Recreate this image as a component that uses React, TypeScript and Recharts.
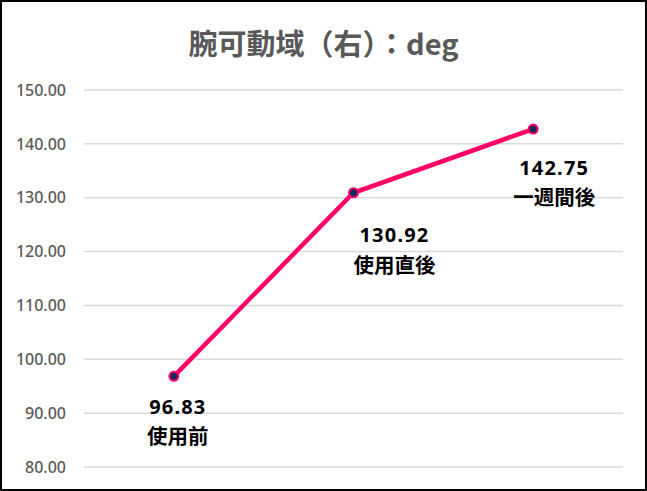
import { LineChart, Line, XAxis, YAxis, CartesianGrid, LabelList } from "recharts"

const categories = ["使用前", "使用直後", "一週間後"]
const values = [96.83, 130.92, 142.75]
const yTicks = [80, 90, 100, 110, 120, 130, 140, 150]

const data = categories.map((name, i) => ({ name, value: values[i] }))

// label placement relative to each point (Excel labels were dragged by hand)
const labelShift = [
  { dx: 4, dy: 30 },
  { dx: 41, dy: 42 },
  { dx: 21, dy: 38 },
]

const FONT = "'Noto Sans CJK JP', 'Noto Sans', sans-serif"

function PointLabel(props: any) {
  const { x, y, index } = props
  const s = labelShift[index] || { dx: 0, dy: 36 }
  const cx = x + s.dx
  const cy = y + s.dy
  return (
    <g fontWeight={700} fill="#000">
      <text x={cx} y={cy} textAnchor="middle" dominantBaseline="central" fontFamily="'Noto Sans', sans-serif" fontSize={20} letterSpacing={1.2}>
        {values[index].toFixed(2)}
      </text>
      <text x={cx} y={cy + 29} textAnchor="middle" dominantBaseline="central" fontFamily={FONT} fontSize={20.5}>
        {categories[index]}
      </text>
    </g>
  )
}

export default function App() {
  return (
    <div style={{ position: "absolute", left: 0, top: 0, width: 647, height: 491, boxSizing: "border-box", border: "2px solid #000", background: "#fff" }}>
      <div style={{ position: "absolute", left: 0, right: 0, top: 20, textAlign: "center", fontFamily: FONT, fontWeight: 700, fontSize: 29, color: "#595959", lineHeight: "40px" }}>
        腕可動域（右）：deg
      </div>
      <LineChart width={643} height={487} data={data} margin={{ top: 88, right: 22, bottom: 22, left: 0 }}>
        <CartesianGrid vertical={false} stroke="#d9d9d9" strokeWidth={1.5} />
        <XAxis dataKey="name" scale="band" hide />
        <YAxis
          domain={[80, 150]}
          ticks={yTicks}
          width={82}
          axisLine={false}
          tickLine={false}
          tickMargin={12}
          tickFormatter={(v: number) => v.toFixed(2)}
          tick={{ fontSize: 16, fill: "#595959", fontFamily: "'Noto Sans', sans-serif", fontWeight: 500 }}
        />
        <Line
          dataKey="value"
          stroke="#ff0066"
          strokeWidth={4.5}
          dot={{ r: 4.5, fill: "#0b2a5b", stroke: "#ff0066", strokeWidth: 2 }}
          isAnimationActive={false}
        >
          <LabelList dataKey="value" content={PointLabel} />
        </Line>
      </LineChart>
    </div>
  )
}
